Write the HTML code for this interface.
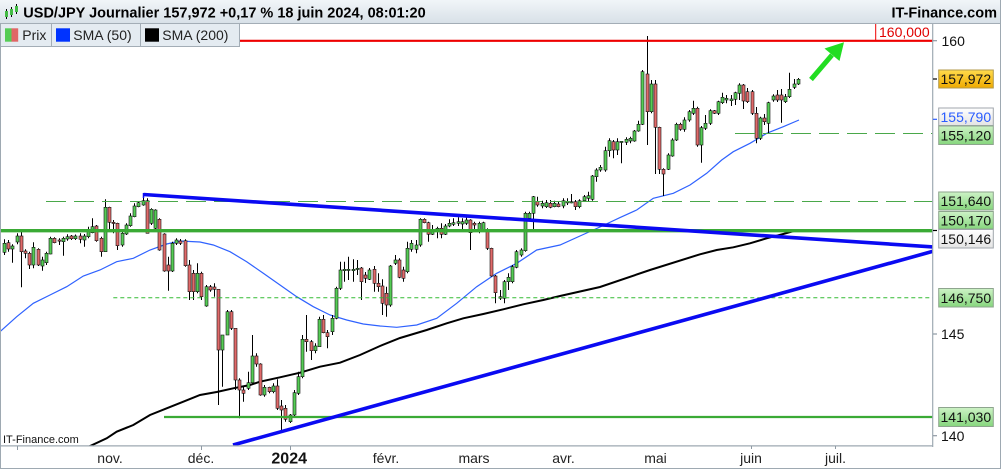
<!DOCTYPE html>
<html><head><meta charset="utf-8"><style>
html,body{margin:0;padding:0;background:#fff;}
svg{display:block;font-family:"Liberation Sans",Arial,sans-serif;}
</style></head><body>
<svg id="ch" width="1001" height="469" viewBox="0 0 1001 469" xmlns="http://www.w3.org/2000/svg">
<defs>
<linearGradient id="tb" x1="0" y1="0" x2="0" y2="1"><stop offset="0" stop-color="#f1f5f8"/><stop offset="1" stop-color="#d8e1e8"/></linearGradient>
<linearGradient id="gb" x1="0" y1="0" x2="0" y2="1"><stop offset="0" stop-color="#cdf2c6"/><stop offset="1" stop-color="#86d67d"/></linearGradient>
<linearGradient id="ob" x1="0" y1="0" x2="0" y2="1"><stop offset="0" stop-color="#ffdb4d"/><stop offset="1" stop-color="#efaa00"/></linearGradient>
<linearGradient id="wb" x1="0" y1="0" x2="0" y2="1"><stop offset="0" stop-color="#ffffff"/><stop offset="1" stop-color="#e4e4e4"/></linearGradient>
<clipPath id="plot"><rect x="0" y="24" width="932.7" height="421.7"/></clipPath>
</defs>
<rect width="1001" height="469" fill="#fff"/>

<g clip-path="url(#plot)">
  <!-- SMA 50 -->
  <polyline fill="none" stroke="#2f62ff" stroke-width="1.2" points="0,331.7 16.7,316.7 33.3,303.3 50,295 66.7,286.7 83.3,276 100,270 116.7,261.7 133.3,258.3 150,250 166.7,244 180,241 200,242 213.3,245 230,251.7 246.7,261.7 263.3,273.3 280,285 296.7,296.7 313.3,306.7 330,315 346.7,320 363.3,324 380,326 396.7,327.3 416.7,325 436.7,318.3 456.7,303.3 476.7,286.7 496.7,273.3 516.7,263.3 536.7,250 560,245 580,236 600,227 620,217.6 636.7,210 653.3,198.3 673.3,193.3 690,185 706.7,173.3 721.7,160 733.3,151.7 750,143.3 766.7,133.3 783.3,126.7 799,120"/>
  <!-- SMA 200 -->
  <polyline fill="none" stroke="#000" stroke-width="2" points="88,447 106.7,438.3 116.7,431.7 133.3,425 150,415 166.7,408.3 183.3,401.7 200,395 216.7,392 233.3,388.3 250,385 260,381.7 280,377.3 300,372.7 320,366.7 340,362.7 360,355 380,346 400,338 426.7,330 446.7,323.3 463.3,318.3 483.3,314 503.3,309.3 523.3,304.3 543.3,300 560,296 600,287 650,270 700,254.3 716.7,250 733.3,247.3 750,243.3 766.7,238.3 783.3,234 795,230.7"/>
  <g id="candles"></g>
  <!-- horizontal levels -->
  <line x1="0" y1="40.8" x2="933" y2="40.8" stroke="#ee0000" stroke-width="2.2"/>
  <line x1="735" y1="133.5" x2="933" y2="133.5" stroke="#4aa84a" stroke-width="1" stroke-dasharray="20,8"/>
  <line x1="46" y1="201.5" x2="933" y2="201.5" stroke="#4aa84a" stroke-width="1" stroke-dasharray="20,8"/>
  <line x1="0" y1="230.7" x2="933" y2="230.7" stroke="#3aaa35" stroke-width="3.4"/>
  <line x1="113.3" y1="297.8" x2="933" y2="297.8" stroke="#33bb33" stroke-width="1" stroke-dasharray="4,3"/>
  <line x1="164" y1="417" x2="933" y2="417" stroke="#3aaa35" stroke-width="2.2"/>
  <!-- trendlines -->
  <line x1="143.5" y1="194.5" x2="934" y2="247" stroke="#0a0af2" stroke-width="3.6"/>
  <line x1="143.5" y1="193" x2="143.5" y2="198" stroke="#0a0af2" stroke-width="1.5"/>
  <line x1="233" y1="445" x2="934" y2="251" stroke="#0a0af2" stroke-width="3.6"/>
  <!-- green arrow -->
  <line x1="811" y1="79.5" x2="832" y2="55" stroke="#22dd22" stroke-width="5" stroke-linecap="butt"/>
  <polygon points="844,42.3 824.5,48.5 839.5,61" fill="#22dd22"/>
  <!-- 160,000 label -->
  <line x1="875.7" y1="24" x2="875.7" y2="40" stroke="#ee0000" stroke-width="1"/>
  <text x="879" y="36.8" font-size="14" fill="#e00000">160,000</text>
  <!-- watermark -->
  <text x="3" y="443" font-size="11" fill="#111">IT-Finance.com</text>
</g>

<!-- axes -->
<line x1="932.7" y1="24" x2="932.7" y2="447" stroke="#9ea9b2" stroke-width="1.2"/>
<line x1="0" y1="445.9" x2="933" y2="445.9" stroke="#9ea9b2" stroke-width="1.2"/>
<g stroke="#8e99a3" stroke-width="1">
  <line x1="17.5" y1="446" x2="17.5" y2="450"/>
  <line x1="201.5" y1="446" x2="201.5" y2="450"/>
  <line x1="290.5" y1="446" x2="290.5" y2="450"/>
  <line x1="751.5" y1="446" x2="751.5" y2="449"/>
  <line x1="835.5" y1="446" x2="835.5" y2="449"/>
</g>
<g font-size="14" fill="#222" text-anchor="middle">
  <text x="110" y="463">nov.</text>
  <text x="201" y="463">déc.</text>
  <text x="289.2" y="463.5" font-size="16" font-weight="bold" fill="#111">2024</text>
  <text x="386" y="463">févr.</text>
  <text x="474" y="463">mars</text>
  <text x="563.5" y="463">avr.</text>
  <text x="655.5" y="463">mai</text>
  <text x="751" y="463">juin</text>
  <text x="835.5" y="463">juil.</text>
</g>

<!-- right axis ticks -->
<g stroke-width="1.2">
  <line x1="933" y1="40.7" x2="937" y2="40.7" stroke="#8e99a3"/>
  <line x1="933" y1="79" x2="937" y2="79" stroke="#000"/>
  <line x1="933" y1="119.3" x2="937" y2="119.3" stroke="#2a5cff"/>
  <line x1="933" y1="230.5" x2="937" y2="230.5" stroke="#000"/>
  <line x1="933" y1="334" x2="937" y2="334" stroke="#8e99a3"/>
  <line x1="933" y1="435.7" x2="937" y2="435.7" stroke="#8e99a3"/>
</g>
<g font-size="14" fill="#111">
  <text x="941.5" y="46">160</text>
  <text x="941" y="339">145</text>
  <text x="941" y="441">140</text>
</g>
<!-- value boxes -->
<g font-size="14">
  <rect x="938.7" y="70" width="54.6" height="18" fill="url(#ob)" stroke="#b39a4a" stroke-width="1"/>
  <text x="940.5" y="84" fill="#111">157,972</text>
  <rect x="938.7" y="108" width="54.6" height="17.5" fill="url(#wb)" stroke="#a0a6ac" stroke-width="1"/>
  <text x="940.5" y="122" fill="#2a5cff">155,790</text>
  <rect x="938.7" y="126" width="54.6" height="18.5" fill="url(#gb)" stroke="#8ea58e" stroke-width="1"/>
  <text x="940.5" y="140.5" fill="#111">155,120</text>
  <rect x="938.7" y="192" width="54.6" height="18" fill="url(#gb)" stroke="#8ea58e" stroke-width="1"/>
  <text x="940.5" y="206" fill="#111">151,640</text>
  <rect x="938.7" y="211.5" width="54.6" height="17.5" fill="url(#gb)" stroke="#8ea58e" stroke-width="1"/>
  <text x="940.5" y="225.5" fill="#111">150,170</text>
  <rect x="938.7" y="229.5" width="54.6" height="18.5" fill="url(#wb)" stroke="#a0a6ac" stroke-width="1"/>
  <text x="940.5" y="244" fill="#111">150,146</text>
  <rect x="938.7" y="288.5" width="54.6" height="18.5" fill="url(#gb)" stroke="#8ea58e" stroke-width="1"/>
  <text x="940.5" y="303" fill="#111">146,750</text>
  <rect x="938.7" y="407.5" width="54.6" height="19" fill="url(#gb)" stroke="#8ea58e" stroke-width="1"/>
  <text x="940.5" y="422" fill="#111">141,030</text>
</g>

<!-- title bar -->
<rect x="0" y="0" width="1001" height="23" fill="url(#tb)"/>
<line x1="0" y1="23.5" x2="1001" y2="23.5" stroke="#a3adb6" stroke-width="1"/>
<g>
  <line x1="6.5" y1="9" x2="6.5" y2="19" stroke="#000" stroke-width="1"/>
  <rect x="5" y="11" width="3" height="6" fill="#44bb44"/>
  <line x1="11.5" y1="7" x2="11.5" y2="17" stroke="#000" stroke-width="1"/>
  <rect x="10" y="9" width="3" height="6" fill="#44bb44"/>
  <line x1="16.5" y1="4" x2="16.5" y2="14" stroke="#000" stroke-width="1"/>
  <rect x="15" y="6" width="3" height="6" fill="#44bb44"/>
</g>
<text x="23.3" y="17.6" font-size="14.5" font-weight="bold" fill="#000">USD/JPY Journalier 157,972 +0,17 % 18 juin 2024, 08:01:20</text>
<text x="997" y="17.6" font-size="14.5" font-weight="bold" fill="#000" text-anchor="end">IT-Finance.com</text>

<!-- legend -->
<g>
  <rect x="0.5" y="23.5" width="51" height="23" fill="#e4ebf1" stroke="#a3adb6" stroke-width="1"/>
  <rect x="51.5" y="23.5" width="89" height="23" fill="#e4ebf1" stroke="#a3adb6" stroke-width="1"/>
  <rect x="140.5" y="23.5" width="99" height="23" fill="#e4ebf1" stroke="#a3adb6" stroke-width="1"/>
  <rect x="5" y="28.3" width="6.5" height="13.4" fill="#55cc55"/>
  <rect x="11.5" y="28.3" width="6.7" height="13.4" fill="#e06666"/>
  <rect x="56" y="28.3" width="14" height="13.4" fill="#0033ff"/>
  <rect x="145" y="28.3" width="14" height="13.4" fill="#000"/>
  <g font-size="14" fill="#222">
    <text x="22.3" y="40">Prix</text>
    <text x="73.3" y="40">SMA (50)</text>
    <text x="162.3" y="40">SMA (200)</text>
  </g>
</g>

<!-- outer border -->
<line x1="0.5" y1="23" x2="0.5" y2="469" stroke="#9ea9b2" stroke-width="1"/>
<line x1="1000.5" y1="0" x2="1000.5" y2="469" stroke="#9ea9b2" stroke-width="1"/>
<line x1="0" y1="468.5" x2="1001" y2="468.5" stroke="#9ea9b2" stroke-width="1"/>
</svg>
<script>
(function(){
var D=[[252.3,243.3,239.3,255],[242.7,249,240,251.7],[249,246,244.3,262.7],[242,236,233.3,244.3],[236,251.7,230,287.3],[251,253.3,249.3,258.3],[253.3,265,251.7,269],[265,247.3,242.3,268.3],[249.3,265,248.3,266],[266,260,256.7,270.7],
[262.7,253.3,251.7,265],[254,238.3,236.7,254.3],[238.3,242.7,237.3,243.3],[240,241,238.3,245],[241.7,238.3,236.7,255.7],[239,236.7,234.3,240.7],[236,238.7,235,240],[238.7,236,234.5,240],[236,239.3,233.3,243.3],[240,236,234,246.7],
[236.7,231.7,226.7,238.3],[232.7,226.7,218.3,233.3],[226,240.7,225,241.7],[238.3,251.7,236.7,256.7],[251.7,207.3,199.3,252],[207.3,222.3,206.7,230],[222.3,223.3,220,233.3],[223.3,245.7,222.7,250],[245,233.3,231.7,246.7],[234,225,223.3,235],
[225.7,216,213.3,226.7],[216.7,206,203.3,217.3],[206.7,202.7,201.7,207.3],[205,200.7,194.3,205.7],[200.7,233.3,198.3,233.3],[223.3,209.3,208.3,225],[228.3,210,209.3,229],[219.3,250,218.3,250.7],[234,271,233.3,271.7],[265,271,256.7,290.7],
[271,243.3,241.7,272],[243.3,240,238.3,245],[241,243.3,239,245],[240.7,265.7,239.3,266.7],[265,291.7,260,300],[273.3,291.7,270,300],[291.7,273.3,263.3,293.3],[273.3,296.7,271.7,300],[306,286.7,285,306.7],[286.7,290,285,291.7],
[287,289.3,283.3,296.7],[289.3,350,289.3,405],[350,335,335,386.7],[335,311.7,310,335],[311.7,328.3,310,330],[328.3,380,328.3,390],[380,390,378.3,418.3],[390,393.3,386.7,401.7],[388.3,382.7,371.7,390],[382.7,356,335,383.3],
[356,364,353.3,366.7],[364,395,363.3,395.7],[395,387.3,385,396.7],[387.3,391.7,386.7,393.3],[391.7,386,383.3,393.3],[386,408.3,379.3,410],[406,410,400,431.7],[408.3,419.3,405,421.7],[421.7,415,414,423],[415,392.7,390,417],
[393.3,376.7,371.7,395],[376.7,339.3,335,378.3],[339.3,341.7,315,351.7],[341.7,350.7,340,360],[350.7,346,343.3,353.3],[346.7,319.3,316.7,346.7],[319.3,332.7,315,333.3],[332.7,336.7,330,348.3],[331.7,318.3,315,335],[318.3,288.3,286.7,319.3],
[288.3,270,261.7,290],[270.7,269.3,261.7,281.7],[270,269.3,256.7,280],[270.7,269.3,259.3,281.7],[269.3,268.3,260,275],[268,281.7,267,300],[275,278.3,272,283],[279.3,270,268,280],[269.3,283.3,266,291.7],[283.3,286.7,273.3,291.7],
[286,303.3,279.3,315],[293.3,305,286.7,316.7],[305,266,265,306.7],[263.3,260,255,265],[260,277.3,258.3,278.3],[270,278.3,266.7,281.7],[271.7,248.3,241.7,273.3],[249.3,243.3,240,251.7],[249.3,245,240,253.3],[245,219.3,218.3,246.7],
[219.3,222.7,218.3,223.3],[222.7,234.3,221.7,241.7],[234.3,229.3,225,235],[230,228.3,226.7,238.3],[228.3,234.3,223.3,238.3],[234.3,226,224,235],[226,223.3,219.3,227.3],[224.3,222.7,218.3,226],[223.3,221.7,217.3,226],[224,221.7,218.3,231.7],
[223.3,220,216,225],[220,232.7,219.3,250],[223.3,225,221.7,230],[231.7,223.3,221.7,233.3],[230,222.7,221.7,231.7],[230,248.3,228.3,250],[248.3,276,247.7,276.7],[276,292.7,275,303.3],[296.7,298.3,290,300],[298.3,281.7,280,303.3],
[281.7,277.3,273.3,290],[281.7,266.7,265,283.3],[267.3,251.7,250,268.3],[255,250,248.3,256.7],[250.7,213.3,211.7,251.7],[218.3,213.3,211.7,220],[213.3,196.7,196,230],[201.7,205,196.7,206.7],[206,203.3,200.7,208.3],[206.7,202.7,200,208],
[203.3,207.3,200,208.3],[206.7,203.3,200.7,207.3],[204,206.7,202,207.3],[206,200.7,198.3,208.3],[202.7,201.7,198.3,205],[202.7,201.7,194,203.3],[201.7,206.7,200,210],[206.7,200.7,199.3,208.3],[200.7,196.7,195,201.7],[198.3,195.7,191.7,201.7],
[199.3,176,175,200.7],[176.7,170,168.3,181.7],[170,167.3,165,171.7],[170,150.7,146.7,171.7],[150.7,140.7,138.3,156.7],[141.7,150,140,158.3],[150,141.7,138.3,155],[142.3,141.3,141,163.3],[142.3,139.3,137.3,145],[141,138.3,136.7,143.3],
[141,131,130,141.7],[131,124.3,120.7,131.7],[124.3,71.7,70,125],[74,111.7,36,145],[111.7,84,80,113.3],[84,127.3,80,174],[127.3,169.3,126.7,174],[169.3,174,168.3,196],[169.3,155,153.3,170],[156,140,138.3,156.7],
[140,124.3,122.7,141],[124.3,129.3,122.7,130.7],[129.3,120,117.3,131.7],[120,111.7,110,121.7],[113.3,108.3,100.7,115],[108.3,145,106.7,146.7],[145,127.7,126,162.7],[128.3,123.3,115,130],[123.3,110.7,109.3,125],[110.7,113.3,110,114],
[113.3,101.7,100.7,115],[102.7,97.3,92.7,104],[100,98.3,95,103.3],[100.7,99,95,106],[99.3,92.7,91.7,105],[93.3,85,83.3,100],[85,101,84,109],[91.7,101.7,88,103],[91.7,113.3,90,115],[113.3,138.3,107,143.3],
[138.3,118,116.7,140],[118,121.7,114,125],[123.3,102.7,101.7,133.3],[100,96,94.3,101.7],[95,100,90,102],[95,100,89,122.7],[101.7,96.7,94,103],[96.7,89.3,72.7,98],[87.3,84,79,89],[84,79.3,78,85]];
var s='';
for(var i=0;i<D.length;i++){
  var d=i+2, x=-3.7+21*Math.floor(d/5)+4*(d%5), xr=Math.round(x);
  var o=D[i][0],c=D[i][1],h=D[i][2],l=D[i][3];
  var top=Math.min(o,c),bot=Math.max(o,c),hh=Math.max(1.2,bot-top);
  var col=(c<=o)?'#55cc55':'#e06a6a';
  s+='<line x1="'+(xr+0.5)+'" y1="'+h+'" x2="'+(xr+0.5)+'" y2="'+l+'" stroke="#000" stroke-width="1"/>';
  s+='<rect x="'+(xr-1)+'" y="'+top+'" width="3" height="'+hh+'" fill="'+col+'" stroke="#111" stroke-width="0.6"/>';
}
document.getElementById('candles').innerHTML=s;
})();
</script>
</body></html>
